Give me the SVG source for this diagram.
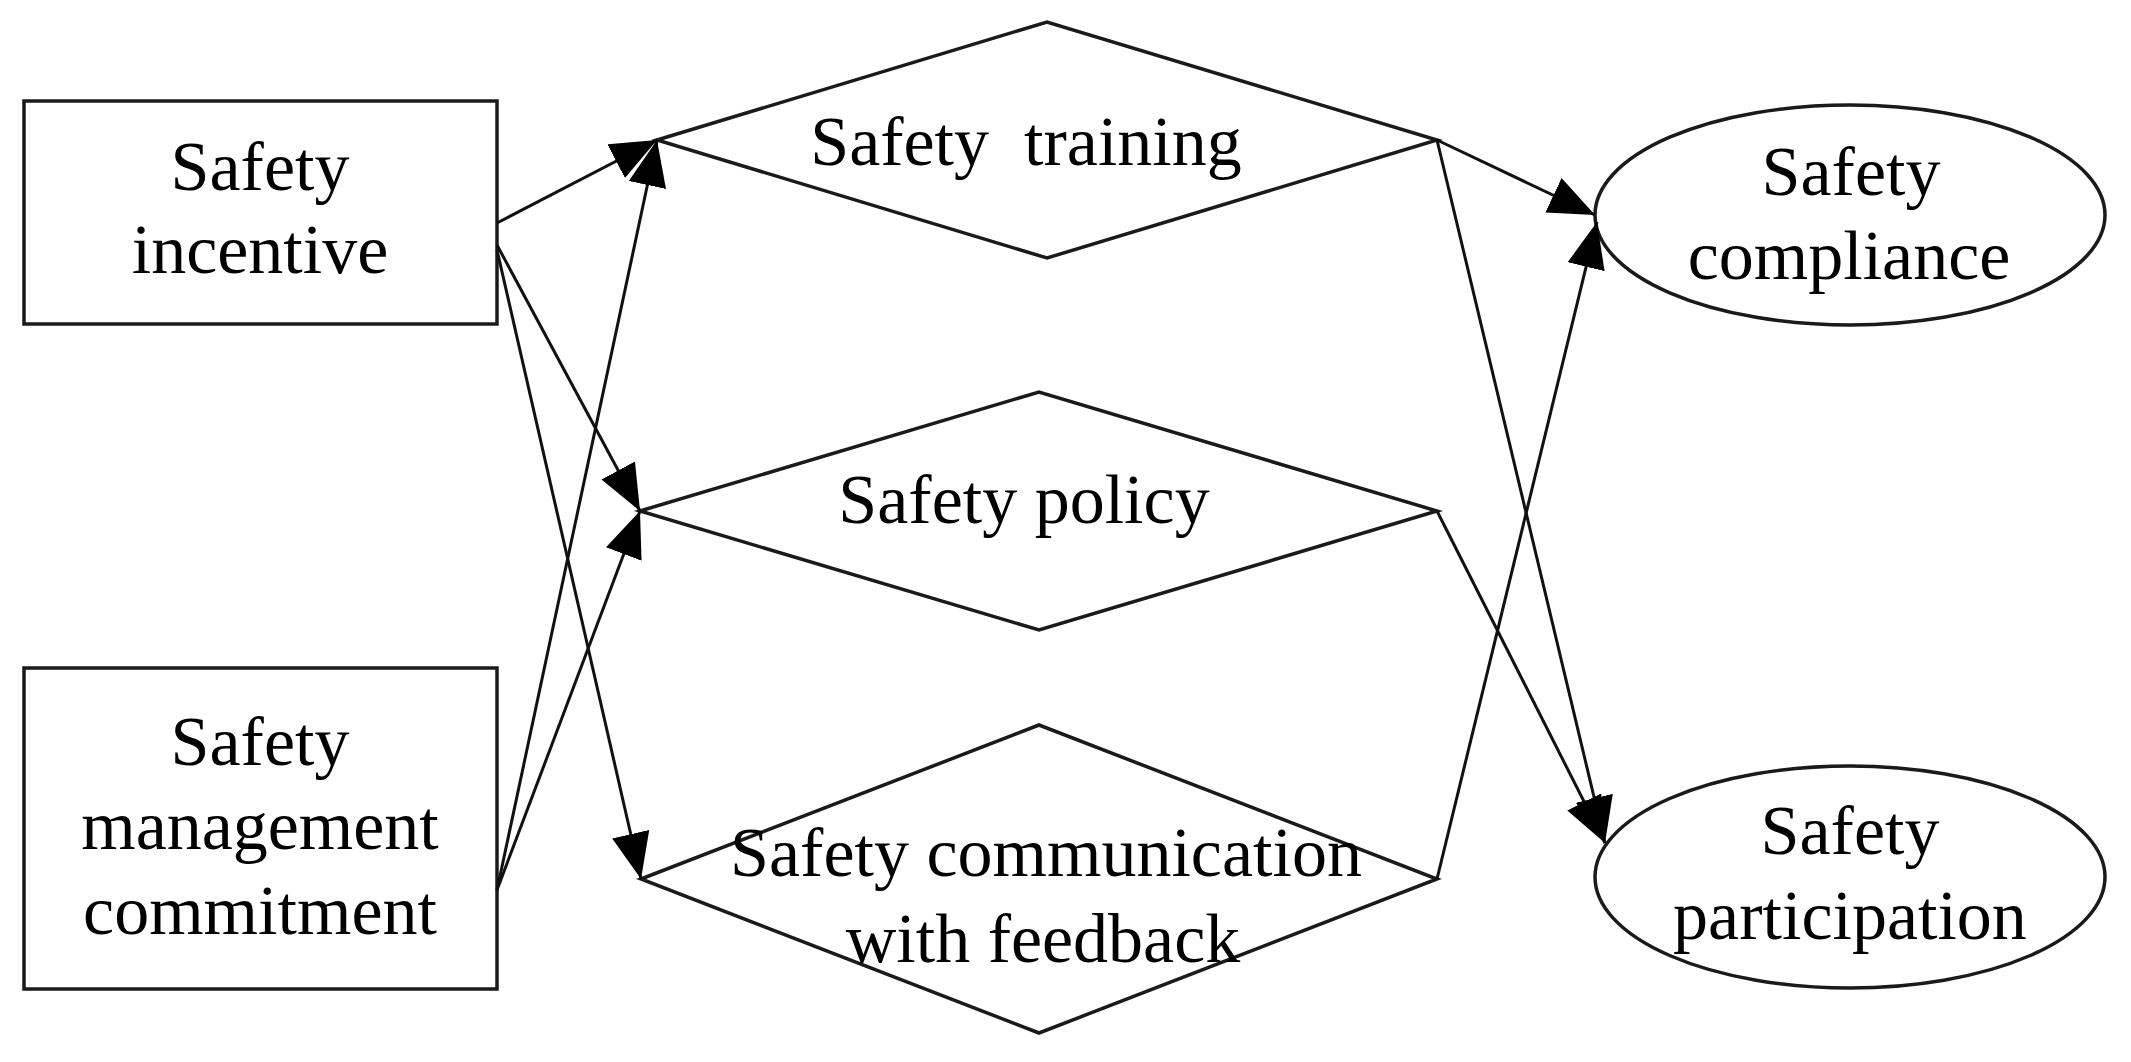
<svg xmlns="http://www.w3.org/2000/svg" width="2131" height="1062" viewBox="0 0 2131 1062">
  <style>
    .shape { fill: #ffffff; stroke: #1a1a1a; stroke-width: 3.5; }
    .lbl { font-family: "Liberation Serif", "Times New Roman", serif; font-size: 70px; fill: #000000; text-anchor: middle; }
    .conn { fill: none; stroke: #111111; stroke-width: 3; marker-end: url(#arrow); }
  </style>
  <defs>
    <marker id="arrow" viewBox="0 0 46 38" refX="46" refY="19" markerWidth="46" markerHeight="38" markerUnits="userSpaceOnUse" orient="auto">
      <path d="M0,0 L46,19 L0,38 z" fill="#000000"/>
    </marker>
  </defs>
  <rect width="2131" height="1062" fill="#ffffff"/>

  <g id="node-incentive">
    <rect class="shape" x="24" y="101" width="473" height="223"/>
    <text class="lbl" x="260" y="190">Safety</text>
    <text class="lbl" x="260" y="273">incentive</text>
  </g>

  <g id="node-management">
    <rect class="shape" x="24" y="668" width="473" height="321"/>
    <text class="lbl" x="260" y="765">Safety</text>
    <text class="lbl" x="260" y="849">management</text>
    <text class="lbl" x="260" y="934">commitment</text>
  </g>

  <g id="node-training">
    <polygon class="shape" points="657,140 1047,22 1437,140 1047,258"/>
    <text class="lbl" x="1026" y="165" xml:space="preserve">Safety  training</text>
  </g>

  <g id="node-policy">
    <polygon class="shape" points="640,511 1039,392 1437,511 1039,630"/>
    <text class="lbl" x="1024" y="523">Safety policy</text>
  </g>

  <g id="node-communication">
    <polygon class="shape" points="641,879 1039,725 1437,879 1039,1033"/>
    <text class="lbl" x="1046" y="876">Safety communication</text>
    <text class="lbl" x="1043" y="962">with feedback</text>
  </g>

  <g id="node-compliance">
    <ellipse class="shape" cx="1850" cy="215" rx="255" ry="110"/>
    <text class="lbl" x="1851" y="195">Safety</text>
    <text class="lbl" x="1849" y="279">compliance</text>
  </g>

  <g id="node-participation">
    <ellipse class="shape" cx="1850" cy="877" rx="255" ry="111"/>
    <text class="lbl" x="1850" y="854">Safety</text>
    <text class="lbl" x="1850" y="939">participation</text>
  </g>

  <g id="connectors">
    <line class="conn" x1="497" y1="223" x2="657" y2="140"/>
    <line class="conn" x1="497" y1="245" x2="640" y2="511"/>
    <line class="conn" x1="497" y1="250" x2="641" y2="879"/>
    <line class="conn" x1="497" y1="890" x2="657" y2="140"/>
    <line class="conn" x1="497" y1="890" x2="640" y2="511"/>
    <line class="conn" x1="1437" y1="140" x2="1595" y2="215"/>
    <line class="conn" x1="1437" y1="140" x2="1605" y2="843"/>
    <line class="conn" x1="1437" y1="511" x2="1605" y2="843"/>
    <line class="conn" x1="1437" y1="879" x2="1597" y2="222"/>
  </g>
</svg>
